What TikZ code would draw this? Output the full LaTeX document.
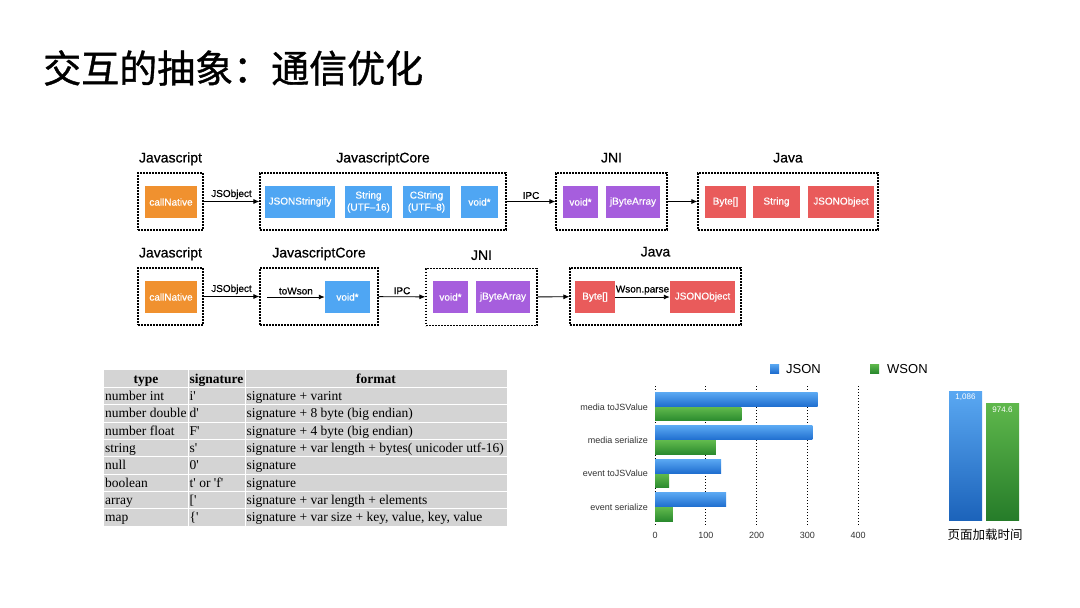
\documentclass[tikz,border=0pt]{standalone}
\usepackage{fontspec}
\setmainfont{Liberation Serif}
\newfontfamily\tablefont{Liberation Serif}
\newfontfamily\uifont{Liberation Sans}
\newfontfamily\uimedium{Liberation Sans}[FakeBold=0.6]
\newfontfamily\cjk{Noto Sans CJK SC}
\newfontfamily\cjktitle{Noto Sans CJK SC}[FakeBold=1]
\usetikzlibrary{arrows.meta,positioning}
\definecolor{wsonorange}{HTML}{F0912F}
\definecolor{wsonblue}{HTML}{4FA6F3}
\definecolor{wsonpurple}{HTML}{A65EDD}
\definecolor{wsonred}{HTML}{E95B5B}
\definecolor{tablegray}{HTML}{D4D4D4}
\definecolor{jsontop}{HTML}{5AA8F2}
\definecolor{jsonbottom}{HTML}{1F6ECF}
\definecolor{wsontop}{HTML}{5FB84C}
\definecolor{wsonbottom}{HTML}{2A8A2E}
\tikzset{
  wsonpicture/.style={x=1pt, y=-1pt},
  wsongroup/.style={draw, dash pattern=on 1.6pt off 1.4pt, line width=1.1pt, minimum height=57pt, inner sep=0pt},
  wsonbox/.style={font=\uimedium\fontsize{10}{12}\selectfont, text=white, minimum height=32pt, inner sep=0pt, align=center},
  wsonjs/.style={wsonbox, fill=wsonorange},
  wsoncore/.style={wsonbox, fill=wsonblue},
  wsonjni/.style={wsonbox, fill=wsonpurple},
  wsonjava/.style={wsonbox, fill=wsonred},
  wsonhead/.style={font=\uimedium\fontsize{14}{16}\selectfont, inner sep=0pt, anchor=base},
  wsonarrow/.style={-{Latex[length=6pt,width=5pt]}, line width=0.9pt},
  wsonlabel/.style={above, font=\uimedium\fontsize{10}{12}\selectfont, inner sep=2pt},
  tablecell/.style={anchor=base west, font=\tablefont\fontsize{13.5}{14}\selectfont, inner sep=0pt},
  tablehead/.style={anchor=base, font=\tablefont\bfseries\fontsize{13.5}{14}\selectfont, inner sep=0pt},
  charttext/.style={font=\uifont\fontsize{9}{10}\selectfont, text=black!80, inner sep=0pt}
}

\begin{document}
\begin{tikzpicture}[wsonpicture]
\useasboundingbox[fill=white] (0,0) rectangle (1080,608);
\node[font=\cjktitle\fontsize{38}{40}\selectfont, anchor=west, inner sep=0pt] (title) at (43,68) {交互的抽象：通信优化};

% first row: JSON path
\node[wsongroup, minimum width=65pt] (jsOne) at (170.5,201.5) {};
\node[wsongroup, minimum width=246pt] (jscOne) at (383,201.5) {};
\node[wsongroup, minimum width=111pt] (jniOne) at (611.5,201.5) {};
\node[wsongroup, minimum width=180pt] (javaOne) at (788,201.5) {};
\node[wsonhead] at ([yshift=10pt]jsOne.north) {Javascript};
\node[wsonhead] at ([yshift=10pt]jscOne.north) {JavascriptCore};
\node[wsonhead] at ([yshift=10pt]jniOne.north) {JNI};
\node[wsonhead] at ([yshift=10pt]javaOne.north) {Java};
\node[wsonjs, minimum width=52pt] (callOne) at (171,202) {callNative};
\node[wsoncore, minimum width=70pt] (stringifyOne) at (300,202) {JSONStringify};
\node[wsoncore, minimum width=47pt] (utfSixteen) at (368.5,202) {String\\(UTF\textendash16)};
\node[wsoncore, minimum width=47pt] (utfEight) at (426.5,202) {CString\\(UTF\textendash8)};
\node[wsoncore, minimum width=37pt] (voidOne) at (479.5,202) {void*};
\node[wsonjni, minimum width=35pt] (jniVoidOne) at (580.5,202) {void*};
\node[wsonjni, minimum width=54pt] (byteArrayOne) at (633,202) {jByteArray};
\node[wsonjava, minimum width=41pt] (byteOne) at (725.5,202) {Byte[]};
\node[wsonjava, minimum width=47pt] (stringOne) at (776.5,202) {String};
\node[wsonjava, minimum width=66pt] (objectOne) at (841,202) {JSONObject};
\draw[wsonarrow] (jsOne) -- node[wsonlabel] {JSObject} (jscOne);
\draw[wsonarrow] (jscOne) -- node[wsonlabel] {IPC} (jniOne);
\draw[wsonarrow] (jniOne) -- (javaOne);

% second row: WSON path
\node[wsongroup, minimum width=65pt] (jsTwo) at (170.5,296.5) {};
\node[wsongroup, minimum width=118pt] (jscTwo) at (319,296.5) {};
\node[wsongroup, minimum width=111pt] (jniTwo) at (481.5,297) {};
\node[wsongroup, minimum width=171pt] (javaTwo) at (655.5,296.5) {};
\node[wsonhead] at ([yshift=10pt]jsTwo.north) {Javascript};
\node[wsonhead] at ([yshift=10pt]jscTwo.north) {JavascriptCore};
\node[wsonhead] at ([yshift=8pt]jniTwo.north) {JNI};
\node[wsonhead] at ([yshift=11pt]javaTwo.north) {Java};
\node[wsonjs, minimum width=52pt] (callTwo) at (171,297) {callNative};
\coordinate (wsonStart) at (267,297);
\node[wsoncore, minimum width=45pt] (voidTwo) at (347.5,297) {void*};
\node[wsonjni, minimum width=35pt] (jniVoidTwo) at (450.5,297) {void*};
\node[wsonjni, minimum width=54pt] (byteArrayTwo) at (503,297) {jByteArray};
\node[wsonjava, minimum width=40pt] (byteTwo) at (595,297) {Byte[]};
\node[wsonjava, minimum width=65pt] (objectTwo) at (702.5,297) {JSONObject};
\draw[wsonarrow] (jsTwo) -- node[wsonlabel] {JSObject} (jscTwo);
\draw[wsonarrow] (wsonStart) -- node[wsonlabel] {toWson} (voidTwo);
\draw[wsonarrow] (jscTwo) -- node[wsonlabel] {IPC} (jniTwo);
\draw[wsonarrow] (jniTwo) -- (javaTwo);
\draw[wsonarrow] (byteTwo) -- node[wsonlabel] {Wson.parse} (objectTwo);

% format table
\fill[tablegray] (104,370) rectangle (507,526);
\foreach \y in {387.3,404.7,422,439.3,456.7,474,491.3,508.7}
  \draw[white, line width=0.8pt] (104,\y) -- (507,\y);
\foreach \x in {188,245}
  \draw[white, line width=0.8pt] (\x,370) -- (\x,526);
\node[tablehead] (typeHead) at (146,383.2) {type};
\node[tablehead] (sigHead) at (216.5,383.2) {signature};
\node[tablehead] (formatHead) at (376,383.2) {format};
\foreach \t/\s/\f [count=\i] in {number int/i'/signature + varint, number double/d'/signature + 8 byte (big endian), number float/F'/signature + 4 byte (big endian), string/s'/signature + var length + bytes( unicoder utf-16), null/0'/signature, boolean/t' or 'f'/signature, array/{['}/signature + var length + elements, {map/\{'/signature + var size + key, value, key, value}}
{
  \node[tablecell] at (105,{383.2+\i*17.33}) {\t};
  \node[tablecell] at (189.5,{383.2+\i*17.33}) {\s};
  \node[tablecell] at (246.5,{383.2+\i*17.33}) {\f};
}

% timing chart
\foreach \v in {0,100,...,400}
{
  \draw[dotted, line width=1pt] ({655+\v*0.508},386) -- ({655+\v*0.508},526);
  \node[charttext] at ({655+\v*0.508},535) {\v};
}
\foreach \lab/\js/\ws [count=\i] in {media toJSValue/320/170, media serialize/310/120, event toJSValue/130/28, event serialize/140/35}
{
  \shade[top color=jsontop, bottom color=jsonbottom] (655,{359+\i*33.4}) rectangle ({655+\js*0.508},{373+\i*33.4});
  \shade[top color=wsontop, bottom color=wsonbottom] (655,{374+\i*33.4}) rectangle ({655+\ws*0.508},{387.5+\i*33.4});
  \node[charttext, anchor=east] at (648,{373.5+\i*33.4}) {\lab};
}
\shade[top color=jsontop, bottom color=jsonbottom] (770,364) rectangle (779,373);
\node[font=\uifont\fontsize{13}{15}\selectfont, anchor=west, inner sep=0pt] (jsonKey) at (786,369) {JSON};
\shade[top color=wsontop, bottom color=wsonbottom] (870,364) rectangle (879,373);
\node[font=\uifont\fontsize{13}{15}\selectfont, anchor=west, inner sep=0pt] (wsonKey) at (887,369) {WSON};

% page load time
\shade[top color=jsontop, bottom color=jsonbottom!90!black] (949,391) rectangle (982,520);
\shade[top color=wsontop, bottom color=wsonbottom!90!black] (986,403) rectangle (1019,520);
\node[charttext, text=white, font=\uifont\fontsize{8}{9}\selectfont] (jsonLoad) at (965.5,397.5) {1,086};
\node[charttext, text=white, font=\uifont\fontsize{8}{9}\selectfont] (wsonLoad) at (1002.5,409.5) {974.6};
\node[font=\cjk\fontsize{12.5}{14}\selectfont, inner sep=0pt] (loadLabel) at (985,535) {页面加载时间};
\end{tikzpicture}
\end{document}
